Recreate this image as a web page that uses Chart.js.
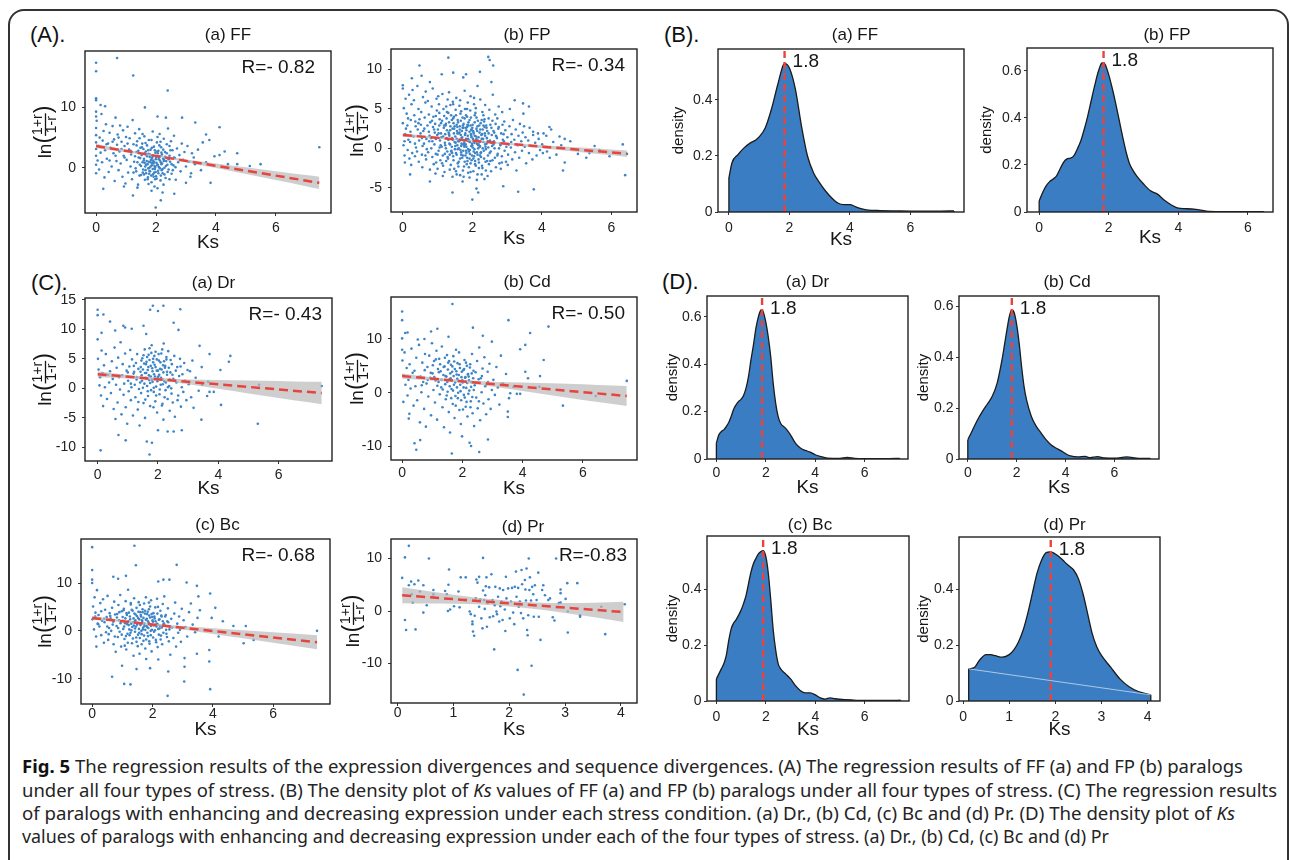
<!DOCTYPE html>
<html>
<head>
<meta charset="utf-8">
<title>Fig. 5</title>
<script src="https://cdn.jsdelivr.net/npm/chart.js@4.4.0/dist/chart.umd.min.js"></script>
<style>
    html, body {
        margin: 0;
        padding: 0;
        width: 1290px;
        height: 860px;
        overflow: hidden;
        background: #fff;
        font-family: "Liberation Sans", Arial, sans-serif;
    }
    #frame {
        position: absolute;
        left: 8px;
        top: 9px;
        width: 1277px;
        height: 900px;
        border: 2px solid #333;
        border-radius: 16px;
    }
    .panel-tag {
        position: absolute;
        font-size: 22px;
        color: #111;
        line-height: 26px;
    }
    .chart-box {
        position: absolute;
    }
    .caption-line {
        position: absolute;
        left: 22px;
        font-family: "Noto Sans", "Open Sans", "Liberation Sans", sans-serif;
        font-size: 18px;
        line-height: 22px;
        color: #242424;
        white-space: nowrap;
        transform-origin: 0 50%;
    }
    .caption-line b {
        color: #111;
    }
</style>
</head>
<body>
<div id="frame"></div>
<div class="panel-tag" style="left:30px; top:22px;">(A).</div>
<div class="panel-tag" style="left:664px; top:22px;">(B).</div>
<div class="panel-tag" style="left:31px; top:270px;">(C).</div>
<div class="panel-tag" style="left:662px; top:269px;">(D).</div>

<div class="caption-line" data-width="1221" style="top:755px;"><b>Fig. 5</b> The regression results of the expression divergences and sequence divergences. (A) The regression results of FF (a) and FP (b) paralogs</div>
<div class="caption-line" data-width="1255" style="top:779px;">under all four types of stress. (B) The density plot of <i>Ks</i> values of FF (a) and FP (b) paralogs under all four types of stress. (C) The regression results</div>
<div class="caption-line" data-width="1213" style="top:802px;">of paralogs with enhancing and decreasing expression under each stress condition. (a) Dr., (b) Cd, (c) Bc and (d) Pr. (D) The density plot of <i>Ks</i></div>
<div class="caption-line" data-width="1087" style="top:825px;">values of paralogs with enhancing and decreasing expression under each of the four types of stress. (a) Dr., (b) Cd, (c) Bc and (d) Pr</div>

<script>
// ---- Tick labels ----
const ksTicks8 = [0, 2, 4, 6];
const ksTicks4 = [0, 1, 2, 3, 4];
const lnTicksFF = [0, 10];
const lnTicksFP = [-5, 0, 5, 10];
const lnTicksDr = [-10, -5, 0, 5, 10, 15];
const lnTicksWide = [-10, 0, 10];
const densTicks3 = [0, 0.2, 0.4];
const densTicks4 = [0, 0.2, 0.4, 0.6];

// ---- Labels ----
const panelTitles = ['(a) FF', '(b) FP', '(a) Dr', '(b) Cd', '(c) Bc', '(d) Pr'];
const rLabels = ['R=- 0.82', 'R=- 0.34', 'R=- 0.43', 'R=- 0.50', 'R=- 0.68', 'R=-0.83'];
const peakKs = [1.84, 1.85, 1.85, 1.8, 1.89, 1.9];
const peakLabel = '1.8';

// ---- (A)/(C) scatter points: [Ks, ln((1+r)/(1-r))] ----
const ffPoints = [
    [0,17.4],[0,16.0],[0.7,18.2],[1.24,15.3],[2.39,12.8],[0,11.5],[0,11.2],[0.15,10.4],[0,9.3],[0,8.5],[0.3,10.2],[1.63,10],[2.05,8.5],[2.33,8.3],[2.87,8.3],[3.31,7.5],[4.12,6.7],[3.67,5.5],[3.78,4.6],[3.56,4.2],[4.12,2.1],[3.95,1.9],[4.29,2.7],[4.71,2.4],[7.45,3.4],[5.13,0.3],[5.49,0.6],[4.71,0.6],[4.4,0.6],[3.82,-2.5],[3.5,-0.4],[3.67,0.9],[3.26,1.7],[3.17,-0.9],[2.22,-4.1],[2.61,-4.3],[2.05,-3.4],[1.85,-3.8],[2.16,-5.4],[1.99,-6.6],[1.23,-4.6],[0.24,-3.5],[0.93,-3.1],[1.38,-3.3],[3.0,-2.5],
    [0,5.4],[0,4.2],[0,2.0],[0,0.5],[0,-0.9],[0,3.1],[0,6.6],[0.02,7.8],[0.05,1.2],[0.08,3.6],[0.1,-0.3],[0.12,5.0],[0.15,2.5],[0.18,8.9],[0.2,0.9],[0.22,4.5],[0.25,6.1],[0.28,-1.6],[0.3,2.9],[0.33,7.2],[0.36,1.5],[0.4,4.0],[0.42,-0.7],[0.45,5.8],[0.48,3.3],
    [0.52,0.2],[0.55,6.9],[0.58,2.4],[0.6,4.7],[0.62,-2.2],[0.65,8.3],[0.68,1.1],[0.7,3.8],[0.72,5.5],[0.75,-0.4],[0.78,2.7],[0.8,7.0],[0.82,0.7],[0.85,4.3],[0.88,-1.5],[0.9,6.2],[0.92,2.0],[0.95,3.6],[0.98,-2.6],[1.0,5.1],
    [1.02,1.3],[1.05,6.8],[1.07,-0.8],[1.1,3.0],[1.12,4.9],[1.15,0.2],[1.17,2.2],[1.2,-1.9],[1.22,7.9],[1.25,3.9],[1.27,1.0],[1.3,5.7],[1.32,-0.1],[1.35,2.6],[1.37,4.4],[1.4,-2.8],[1.42,1.7],[1.44,6.4],[1.46,0.5],[1.48,3.3],
    [1.5,-1.2],[1.52,2.1],[1.54,4.0],[1.55,0.9],[1.57,-0.3],[1.58,3.1],[1.6,1.5],[1.61,5.2],[1.63,-2.0],[1.64,0.2],[1.66,2.7],[1.67,-0.9],[1.69,1.1],[1.7,3.7],[1.72,0.6],[1.73,-1.6],[1.75,2.3],[1.76,4.6],[1.78,0.0],[1.79,1.8],[1.8,-0.6],[1.82,3.0],[1.83,1.3],[1.85,-2.4],[1.86,0.4],[1.88,2.0],[1.89,6.0],[1.9,-1.1],[1.92,1.0],[1.93,3.5],[1.95,0.3],[1.96,-0.2],[1.98,2.5],[1.99,1.4],
    [2.0,-1.4],[2.02,0.8],[2.03,4.2],[2.05,1.9],[2.07,-0.5],[2.08,2.8],[2.1,0.1],[2.12,5.6],[2.13,1.2],[2.15,-2.1],[2.17,3.4],[2.18,0.6],[2.2,2.2],[2.22,-0.9],[2.24,1.5],[2.26,4.8],[2.28,0.0],[2.3,2.6],[2.32,-1.7],[2.34,1.1],[2.36,3.9],[2.38,0.5],[2.4,6.5],[2.42,-0.3],[2.45,2.0],[2.47,1.0],[2.5,4.4],
    [2.52,-1.0],[2.55,2.9],[2.58,0.4],[2.6,5.3],[2.63,1.6],[2.66,-2.0],[2.7,3.2],[2.74,0.9],[2.78,2.1],[2.82,-0.6],[2.86,4.0],[2.9,1.3],[2.95,2.6],[3.0,0.2],[3.05,3.6],[3.1,1.0],[3.15,-1.5],[3.2,2.4],[3.3,0.6],[3.4,3.0],
    [1.62,0.8],[1.74,-0.1],[1.87,1.6],[1.94,-0.8],[2.04,0.4],[2.11,1.7],[2.19,-0.4],[2.27,1.3],[1.68,2.2],[1.81,0.9],[1.97,-1.9],[2.06,2.4],[1.91,0.7],[2.16,0.9],[1.77,-1.0],
    [1.3,1.9],[1.34,-0.6],[1.38,0.9],[1.41,2.8],[1.45,-1.3],[1.47,1.6],[1.5,0.3],[1.53,3.4],[1.56,-0.8],[1.59,1.2],[1.62,2.4],[1.65,-0.4],[1.67,0.5],[1.7,1.9],[1.72,-1.9],[1.74,2.9],[1.76,1.0],[1.78,-0.5],[1.8,2.2],[1.82,0.2],
    [1.84,-1.3],[1.86,3.3],[1.87,0.8],[1.89,-0.2],[1.91,1.9],[1.92,-1.5],[1.94,0.9],[1.96,2.9],[1.97,0.1],[1.99,-0.7],[2.01,1.7],[2.02,-1.8],[2.04,2.7],[2.06,0.5],[2.08,-0.9],[2.09,1.4],[2.11,3.7],[2.13,-0.1],[2.14,1.9],[2.16,-1.3],
    [2.18,2.5],[2.2,0.7],[2.22,-0.2],[2.24,3.0],[2.26,1.1],[2.28,-1.1],[2.3,1.8],[2.33,0.3],[2.36,2.4],[2.39,-0.7],[2.42,1.4],[2.45,-1.9],[2.48,2.9],[2.52,0.6],[2.56,-0.4],[2.6,1.7],[2.65,0.1],[1.15,2.8],[1.05,4.0],[0.95,1.7],
    [0.85,3.1],[0.75,5.0],[0.65,2.0],[0.55,4.3],[0.45,1.2],[0.35,3.9],[1.25,-0.8],[1.45,4.9],[1.65,4.1],[1.85,4.6],[2.05,5.1],[2.25,-2.8],[1.95,-3.1],[1.75,-2.7],[2.45,3.6],[2.15,4.3],[1.55,5.6],[1.35,3.7],[1.6,-1.1],[1.9,1.2]
];

const fpPoints = [
    [1.31,11.5],[2.46,11.6],[2.5,11.2],[2.6,10.5],[0.48,10.5],[0,8.0],[0,7.6],[0.26,8.9],[0.54,9.2],[1.12,9.4],[1.45,9.6],[1.82,9.4],[2.22,9.7],[1.74,9.0],[0.78,8.4],[2.55,8.4],[3.22,6.1],[3.46,5.7],[3.63,5.3],[3.49,2.8],[4.22,2.7],[4.27,2.4],[3.75,2.1],[3.89,1.9],[4.51,1.5],[4.66,1.2],[4.13,1.6],[4.56,0.4],[4.66,-1.8],[4.61,-2.8],[4.03,-0.6],[4.23,-1.2],[5.28,-1.2],[5.37,-0.6],[5.66,-0.2],[5.95,-1.0],[6.33,0.5],[6.4,-3.4],[6.45,-0.7],[3.32,-5.5],[3.77,-5.2],[2.12,-5.1],[2.17,-5.6],[1.43,-5.6],[2.0,-6.5],[0.21,-3.3],[0.78,-4.2],[2.89,-4.8],
    [0.0,3.2],[0.02,0.4],[0.05,-0.9],[0.07,1.8],[0.03,5.1],[0.08,6.3],[0.06,-1.8],[0.09,2.5],
    [0.11,4.4],[0.14,-0.2],[0.16,1.1],[0.13,2.9],[0.18,6.8],[0.19,-1.3],
    [0.21,0.8],[0.23,3.6],[0.25,5.6],[0.27,-0.6],[0.22,2.1],[0.28,7.4],[0.24,-2.1],
    [0.31,1.5],[0.33,4.2],[0.35,-1.0],[0.37,2.8],[0.32,6.1],[0.38,0.1],[0.36,3.4],
    [0.41,-0.4],[0.43,2.4],[0.45,5.0],[0.47,1.0],[0.42,7.9],[0.48,3.7],[0.46,-1.7],
    [0.51,1.9],[0.53,4.6],[0.55,-0.8],[0.57,0.3],[0.52,3.0],[0.58,6.5],[0.56,-2.4],[0.59,2.2],
    [0.61,0.6],[0.63,3.9],[0.65,5.8],[0.67,-1.4],[0.62,2.5],[0.68,1.2],[0.66,7.2],[0.69,-0.1],
    [0.71,2.9],[0.73,-0.5],[0.75,4.3],[0.77,1.6],[0.72,6.0],[0.78,-2.7],[0.76,0.9],[0.79,3.3],
    [0.81,1.3],[0.83,5.3],[0.85,-1.1],[0.87,2.7],[0.82,0.0],[0.88,4.0],[0.86,7.6],[0.89,-2.0],[0.84,3.5],
    [0.91,0.5],[0.93,3.1],[0.95,-0.7],[0.97,6.3],[0.92,2.0],[0.98,4.8],[0.96,-1.8],[0.99,1.7],[0.94,-3.2],
    [1.01,2.4],[1.03,-0.3],[1.05,4.5],[1.07,1.0],[1.02,6.6],[1.08,-1.5],[1.06,3.7],[1.09,0.4],[1.04,5.6],[1.0,-2.6],
    [1.11,1.4],[1.13,3.5],[1.15,-0.9],[1.17,5.0],[1.12,0.2],[1.18,2.6],[1.16,-2.2],[1.19,4.1],[1.14,6.9],[1.1,1.9],
    [1.21,0.7],[1.23,2.9],[1.25,-1.6],[1.27,4.6],[1.22,1.8],[1.28,-0.4],[1.26,3.8],[1.29,6.2],[1.24,0.0],[1.2,-3.0],[1.27,2.3],
    [1.31,1.1],[1.33,3.3],[1.35,-0.8],[1.37,5.5],[1.32,2.0],[1.38,-2.1],[1.36,0.5],[1.39,4.2],[1.34,1.6],[1.3,-1.3],[1.37,2.8],[1.33,7.1],
    [1.41,0.2],[1.43,2.5],[1.45,-1.0],[1.47,4.0],[1.42,1.3],[1.48,-2.6],[1.46,3.2],[1.49,0.8],[1.44,5.9],[1.4,-0.3],[1.47,1.9],[1.43,-3.6],[1.45,3.8],
    [1.51,1.5],[1.53,-0.6],[1.55,3.0],[1.57,0.4],[1.52,4.9],[1.58,-1.9],[1.56,2.2],[1.59,0.9],[1.54,6.4],[1.5,-0.1],[1.57,2.7],[1.53,-2.9],[1.55,1.2],[1.58,3.6],
    [1.61,0.0],[1.63,2.0],[1.65,-1.3],[1.67,3.5],[1.62,1.1],[1.68,-0.5],[1.66,4.4],[1.69,0.6],[1.64,2.8],[1.6,-2.3],[1.67,1.7],[1.63,5.4],[1.65,-3.4],[1.68,0.3],
    [1.71,1.4],[1.73,-0.9],[1.75,2.6],[1.77,0.2],[1.72,3.9],[1.78,-1.7],[1.76,1.0],[1.79,5.0],[1.74,-0.3],[1.7,2.2],[1.77,0.7],[1.73,-2.8],[1.75,3.1],[1.78,7.3],[1.72,-4.2],
    [1.81,0.5],[1.83,2.3],[1.85,-1.2],[1.87,1.6],[1.82,4.2],[1.88,-0.1],[1.86,3.0],[1.89,0.9],[1.84,-2.0],[1.8,1.9],[1.87,5.8],[1.83,-0.6],[1.85,2.7],[1.88,-3.1],[1.82,1.2],
    [1.91,1.0],[1.93,-0.7],[1.95,2.9],[1.97,0.3],[1.92,3.6],[1.98,-1.5],[1.96,1.8],[1.99,0.6],[1.94,4.8],[1.9,-2.4],[1.97,2.4],[1.93,-0.2],[1.95,6.6],[1.98,1.4],[1.92,-3.7],
    [2.01,0.1],[2.03,2.1],[2.05,-1.0],[2.07,3.3],[2.02,1.2],[2.08,-2.0],[2.06,0.7],[2.09,4.5],[2.04,-0.4],[2.0,2.6],[2.07,1.6],[2.03,-2.9],[2.05,5.6],[2.08,-1.6],
    [2.11,1.5],[2.13,-0.5],[2.15,2.8],[2.17,0.4],[2.12,3.9],[2.18,-1.4],[2.16,1.0],[2.19,-2.5],[2.14,2.2],[2.1,5.1],[2.17,0.0],[2.13,-4.0],[2.15,7.9],
    [2.21,0.8],[2.23,2.4],[2.25,-1.1],[2.27,3.6],[2.22,0.2],[2.28,-2.2],[2.26,1.7],[2.29,4.6],[2.24,-0.6],[2.2,2.9],[2.27,-3.3],[2.23,6.2],
    [2.31,1.2],[2.33,-0.3],[2.35,2.7],[2.37,0.5],[2.32,4.2],[2.38,-1.7],[2.36,1.9],[2.39,-2.8],[2.34,3.4],[2.3,0.0],[2.37,5.5],
    [2.41,0.6],[2.43,2.2],[2.45,-0.9],[2.47,3.8],[2.42,1.3],[2.48,-2.0],[2.46,0.1],[2.49,4.9],[2.44,-3.5],[2.4,2.9],
    [2.51,1.0],[2.53,-0.4],[2.55,2.6],[2.57,0.3],[2.52,-1.6],[2.58,3.5],[2.56,1.7],[2.59,6.8],[2.54,-2.9],
    [2.61,0.5],[2.63,2.0],[2.65,-1.2],[2.67,3.1],[2.62,0.9],[2.68,-2.4],[2.66,4.3],[2.69,1.5],
    [2.71,1.3],[2.73,-0.7],[2.75,2.5],[2.77,0.0],[2.72,3.8],[2.78,-1.9],[2.76,5.3],
    [2.81,0.4],[2.83,1.9],[2.85,-1.0],[2.87,3.0],[2.82,-2.6],[2.88,1.1],[2.86,4.6],
    [2.91,0.9],[2.93,-0.3],[2.95,2.3],[2.97,-1.7],[2.92,3.4],[2.98,0.2],
    [3.01,1.4],[3.03,-0.8],[3.05,0.5],[3.07,2.8],[3.02,-2.1],[3.08,5.0],
    [3.11,0.1],[3.13,1.8],[3.15,-1.4],[3.17,3.6],[3.12,0.8],
    [3.21,1.1],[3.23,-0.5],[3.25,2.4],[3.27,-2.8],
    [3.31,0.4],[3.33,1.6],[3.35,-1.2],[3.37,3.1],
    [3.41,0.9],[3.43,-0.3],[3.45,2.0],[3.47,4.4],
    [3.51,0.2],[3.53,1.4],[3.55,-1.9],
    [3.61,1.0],[3.63,-0.6],[3.65,2.6],
    [3.71,0.3],[3.73,-1.4],[3.75,1.7],
    [3.81,0.7],[3.85,-0.9],[3.91,1.2],[3.95,-0.2],[4.01,0.5],[4.05,1.9],
    [4.15,-0.4],[4.33,0.8],[4.42,-0.8],[4.82,0.9],[5.04,-0.7],[5.52,0.3],
    [0.85,0.9],[0.9,2.4],[0.95,4.1],[1.0,-0.8],[1.03,1.9],[1.06,0.1],[1.1,3.2],[1.13,-1.9],[1.16,1.5],[1.19,2.9],
    [1.21,-0.7],[1.24,3.1],[1.26,1.3],[1.29,-1.1],[1.31,4.5],[1.34,0.6],[1.36,2.3],[1.39,-0.4],[1.41,3.6],[1.44,1.1],
    [1.46,-1.5],[1.49,2.8],[1.51,0.3],[1.53,4.2],[1.55,-0.8],[1.57,1.9],[1.59,3.3],[1.61,-1.7],[1.62,0.9],[1.64,2.4],
    [1.66,-0.2],[1.68,4.7],[1.69,1.3],[1.71,-1.2],[1.73,2.9],[1.74,0.5],[1.76,-2.3],[1.78,3.8],[1.79,1.7],[1.8,-0.9],
    [1.82,2.6],[1.83,0.2],[1.85,4.0],[1.86,-1.6],[1.88,1.2],[1.89,3.3],[1.9,-0.4],[1.92,2.1],[1.93,0.8],[1.95,-1.9],
    [1.96,3.9],[1.97,1.6],[1.99,-0.9],[2.0,0.4],[2.01,3.0],[2.03,-1.3],[2.04,1.9],[2.06,-0.1],[2.07,4.2],[2.09,1.0],
    [2.1,-2.2],[2.12,2.5],[2.13,0.6],[2.15,-0.8],[2.16,3.5],[2.18,1.4],[2.19,-1.8],[2.21,2.0],[2.22,0.3],[2.24,3.2],
    [2.25,-0.5],[2.27,1.2],[2.29,-2.5],[2.3,2.4],[2.32,0.8],[2.34,-1.3],[2.35,3.7],[2.37,1.6],[2.39,-0.1],[2.41,2.6],
    [2.43,-1.6],[2.45,0.9],[2.47,1.9],[2.5,-0.6],[2.52,3.0],[2.55,0.7],[2.58,-1.5],[2.61,2.2],[2.64,0.0],[2.68,1.6],
    [2.72,-0.9],[2.76,2.7],[2.8,0.6],[2.85,-1.8],[2.9,1.8],[1.25,5.3],[1.45,5.6],[1.65,6.1],[1.85,5.0],[2.05,6.4],
    [1.35,-2.7],[1.55,-3.3],[1.75,-3.6],[1.95,-3.0],[2.15,-3.3],[2.35,-3.9],[1.15,-3.5],[0.95,1.2],[0.75,2.1],[0.65,-0.9],
    [0.55,1.3],[0.45,3.2],[0.35,0.6],[0.25,1.6],[0.15,3.8],[0.05,0.9],[1.05,2.9],[1.22,0.4],[1.42,-0.6],[1.62,1.9],
    [1.82,-0.3],[2.02,2.2],[2.22,-0.9],[2.42,1.3],[1.52,0.7],[1.72,2.6],[1.92,-1.3],[2.12,1.2],[2.32,2.9],[1.33,1.8],
    [1.58,-0.1],[1.78,0.4],[1.98,2.3],[2.18,0.5],[2.38,0.2],[1.48,2.5],[1.68,-0.8],[1.88,2.9],[2.08,-0.6],[2.28,1.8]
];

const drPoints = [
    [0,13.3],[0,12.4],[0.19,12.5],[0.41,11.3],[0,8.3],[1.83,14.0],[2.18,14.0],[1.74,13.3],[2.0,13.1],[2.74,13.4],[2.52,11.1],[2.68,9.9],[0.13,9.4],[0.58,9.8],[0.85,10.6],[0.91,10.3],[1.13,10.1],[1.52,10.6],[1.61,9.2],[3.38,7.2],[3.71,5.8],[4.4,5.5],[4.35,4.5],[4.07,3.1],[3.66,1.1],[3.46,0.6],[3.71,-0.6],[3.85,-0.6],[3.63,-1.3],[4.09,-2.8],[3.44,-5.3],[5.31,-6.0],[5.35,0.6],[7.43,0.4],[0.1,-10.5],[0.69,-7.9],[0.93,-8.8],[1.63,-9.0],[1.8,-9.2],[1.72,-11.2],[2.32,-7.3],[2.52,-7.3],[2.79,-7.1],[2.0,-7.1],
    [0.01,5.0],[0.03,3.2],[0.06,0.5],[0.08,1.9],[0.11,-1.2],[0.13,6.4],[0.16,2.6],[0.18,-3.0],
    [0.21,3.9],[0.24,0.2],[0.27,5.8],[0.31,-1.8],[0.34,2.3],[0.38,1.0],
    [0.41,2.9],[0.44,-0.8],[0.47,4.6],[0.5,1.6],[0.53,-3.5],[0.56,6.9],[0.59,-5.2],
    [0.61,0.6],[0.63,3.5],[0.66,-2.4],[0.68,5.2],[0.71,1.9],[0.74,-0.2],[0.76,7.8],[0.79,-4.4],
    [0.81,2.2],[0.83,4.1],[0.86,-1.1],[0.88,0.8],[0.91,5.9],[0.93,-3.2],[0.96,3.0],[0.98,-6.0],
    [1.01,1.3],[1.03,-0.5],[1.05,3.7],[1.08,6.5],[1.1,-2.0],[1.12,0.2],[1.14,4.9],[1.17,-4.6],[1.19,2.5],
    [1.21,2.8],[1.23,0.6],[1.25,-1.5],[1.27,4.3],[1.29,1.5],[1.31,5.8],[1.33,-3.6],[1.35,3.3],[1.37,-0.1],[1.39,-6.3],
    [1.41,1.0],[1.43,3.6],[1.44,-0.8],[1.46,2.2],[1.48,5.1],[1.5,0.1],[1.52,-2.5],[1.54,4.2],[1.56,6.6],[1.57,-5.0],[1.59,1.8],
    [1.61,2.6],[1.62,4.5],[1.64,0.4],[1.66,3.1],[1.67,-1.3],[1.69,5.7],[1.71,1.4],[1.72,6.8],[1.74,-3.0],[1.76,2.0],[1.77,-0.3],[1.79,7.3],
    [1.81,3.4],[1.82,1.1],[1.84,5.0],[1.86,-0.6],[1.87,2.4],[1.89,4.0],[1.91,-2.2],[1.92,6.2],[1.94,0.3],[1.96,3.0],[1.97,-4.1],[1.99,1.8],
    [2.01,2.0],[2.03,4.7],[2.05,-1.0],[2.07,3.3],[2.09,0.6],[2.11,5.9],[2.13,-2.9],[2.15,1.5],[2.17,3.9],[2.18,-5.3],[2.19,7.6],
    [2.21,1.2],[2.23,3.5],[2.25,-0.3],[2.28,4.9],[2.3,2.3],[2.32,-1.8],[2.34,6.3],[2.37,0.4],[2.39,-3.8],
    [2.41,2.7],[2.44,0.0],[2.46,4.1],[2.49,-2.4],[2.51,1.6],[2.54,5.5],[2.56,-4.8],[2.59,3.0],
    [2.61,1.0],[2.64,3.6],[2.67,-1.2],[2.7,2.1],[2.73,5.0],[2.76,-3.1],[2.79,0.2],
    [2.81,2.4],[2.84,-0.6],[2.87,4.3],[2.9,1.3],[2.94,-2.0],[2.98,3.1],
    [3.02,0.7],[3.06,2.9],[3.1,-1.5],[3.14,4.7],[3.18,-3.3],
    [3.25,1.8],[3.35,-0.4],[3.45,3.6],
    [1.42,2.8],[1.45,4.7],[1.47,1.3],[1.5,3.2],[1.52,5.6],[1.55,0.8],[1.57,2.6],[1.6,4.1],[1.62,1.6],[1.64,5.3],
    [1.66,-0.5],[1.68,3.6],[1.7,2.2],[1.72,4.8],[1.74,0.9],[1.76,3.8],[1.78,6.0],[1.8,1.5],[1.82,2.9],[1.84,4.4],
    [1.86,0.1],[1.88,5.5],[1.9,2.0],[1.92,3.6],[1.94,-1.2],[1.96,4.9],[1.98,1.2],[2.0,3.0],[2.02,5.8],[2.04,2.3],
    [2.06,-0.2],[2.08,4.4],[2.1,1.8],[2.12,3.2],[2.14,6.6],[2.16,0.7],[2.18,2.7],[2.2,4.6],[2.22,-1.5],[2.24,3.8],
    [2.26,1.0],[2.28,5.3],[2.3,2.8],[2.33,0.2],[2.36,3.5],[2.39,1.5],[2.42,4.8],[2.45,-0.9],[2.48,2.3],[1.3,1.9],
    [1.2,3.8],[1.1,0.8],[1.0,2.7],[2.55,1.3],[2.65,-2.0],[2.75,3.7],[1.35,-2.3],[1.58,-1.9],[1.85,-3.2],[2.15,-2.6]
];

const cdPoints = [
    [0,15.1],[0,13.5],[1.67,16.5],[3.53,13.5],[4.86,12.3],[4.25,11.1],[4.09,8.9],[3.92,8.1],[4.7,6.1],[4.58,3.1],[4.09,3.9],[4.18,2.7],[3.7,1.1],[3.59,-0.1],[3.81,-0.2],[3.92,-0.2],[4.56,1.1],[7.46,2.2],[6.43,-0.6],[5.34,-2.4],[3.51,-3.5],[3.51,-4.5],[2.85,-8.7],[2.56,-11.0],[2.24,-9.3],[2.29,-9.9],[1.65,-11.3],[0.47,-10.6],[0.41,-9.4],[0.6,-8.8],[0.24,-3.9],[0.22,-4.8],[0.04,-1.7],[0.1,11.1],[0.18,11.2],[0.74,10.0],[0.52,9.9],[0.96,11.4],[1.17,11.9],[1.54,10.4],[2.35,12.1],[2.68,10.6],[2.98,9.5],[0,10.1],[0,8.0],
    [0.01,6.0],[0.04,3.2],[0.08,7.5],[0.11,1.5],[0.15,4.6],[0.18,-0.5],
    [0.21,2.4],[0.25,5.3],[0.28,0.8],[0.31,8.2],[0.35,3.7],[0.38,-2.4],
    [0.41,4.1],[0.44,1.2],[0.47,6.5],[0.5,-1.4],[0.53,2.9],[0.56,8.9],[0.59,-5.5],
    [0.61,3.0],[0.64,0.1],[0.67,5.6],[0.7,2.0],[0.73,-3.0],[0.76,7.2],[0.79,-6.3],
    [0.81,1.7],[0.84,4.8],[0.87,-0.7],[0.9,6.9],[0.93,2.8],[0.96,-4.2],[0.99,9.2],
    [1.01,3.6],[1.04,0.5],[1.06,5.9],[1.09,-1.8],[1.11,2.3],[1.14,7.8],[1.16,-5.0],[1.19,4.4],
    [1.21,2.0],[1.23,6.3],[1.25,-0.3],[1.28,4.0],[1.3,1.0],[1.32,8.6],[1.34,-2.7],[1.37,3.3],[1.39,-6.4],
    [1.41,4.9],[1.43,1.6],[1.45,-1.2],[1.47,3.0],[1.49,7.0],[1.51,0.2],[1.53,5.6],[1.55,-3.6],[1.57,2.5],[1.59,-7.4],
    [1.61,2.7],[1.62,5.2],[1.64,0.7],[1.66,3.9],[1.68,-2.1],[1.7,6.8],[1.72,1.5],[1.74,-4.7],[1.75,4.4],[1.77,-0.6],[1.79,8.0],
    [1.81,3.4],[1.82,1.0],[1.84,5.5],[1.85,-1.0],[1.87,2.2],[1.89,7.5],[1.9,-3.2],[1.92,4.6],[1.94,0.3],[1.95,-5.8],[1.97,2.9],[1.99,-8.1],
    [2.01,1.9],[2.03,4.2],[2.05,-0.4],[2.07,6.1],[2.09,2.8],[2.11,-2.6],[2.13,0.9],[2.15,5.0],[2.17,-4.4],[2.19,3.5],
    [2.21,3.0],[2.23,0.4],[2.26,5.3],[2.28,-1.6],[2.3,2.0],[2.32,7.2],[2.34,-3.8],[2.37,4.1],[2.39,-6.2],
    [2.41,1.4],[2.44,3.8],[2.46,-0.9],[2.49,5.9],[2.51,-2.9],[2.54,2.5],[2.56,8.4],[2.59,-5.1],
    [2.61,2.7],[2.64,0.1],[2.67,4.5],[2.7,-2.0],[2.73,6.6],[2.76,1.2],[2.79,-4.0],
    [2.81,1.6],[2.84,3.9],[2.87,-1.2],[2.9,5.4],[2.94,-3.0],[2.98,0.5],
    [3.03,2.4],[3.08,-0.4],[3.13,4.8],[3.18,1.0],[3.23,-2.2],[3.28,6.9],
    [3.35,1.7],[3.45,3.5],[3.55,-1.0],
    [1.02,5.1],[1.07,2.9],[1.12,6.2],[1.17,1.3],[1.22,3.8],[1.26,5.3],[1.31,2.4],[1.35,0.6],[1.38,4.8],[1.42,6.5],
    [1.44,3.1],[1.48,-0.5],[1.5,2.0],[1.52,4.3],[1.56,5.9],[1.58,1.2],[1.6,3.6],[1.63,-1.0],[1.65,2.3],[1.67,4.9],
    [1.69,0.4],[1.71,3.1],[1.73,5.8],[1.76,1.9],[1.78,-2.4],[1.8,4.0],[1.83,2.6],[1.86,0.0],[1.88,3.3],[1.91,5.3],
    [1.93,1.5],[1.96,-1.4],[1.98,3.9],[2.0,2.3],[2.02,-3.1],[2.04,1.0],[2.06,4.4],[2.08,-0.9],[2.1,2.9],[2.12,5.6],
    [2.14,-1.7],[2.16,1.8],[2.18,3.4],[2.2,-0.2],[2.22,2.3],[2.25,4.7],[2.27,-2.7],[2.29,1.1],[2.31,3.6],[2.33,-0.8],
    [2.36,2.7],[2.38,0.5],[0.95,3.7],[0.85,2.4],[0.75,4.2],[0.65,1.4],[2.45,1.9],[2.55,-1.6],[2.65,3.1],[2.85,2.0]
];

const bcPoints = [
    [0,17.5],[1.4,17.8],[0,12.7],[1.45,13.7],[2.8,13.8],[0,10.7],[0,10.0],[0.7,11.3],[1.12,11.5],[0.86,10.9],[2.36,10.7],[2.56,10.7],[2.19,10.3],[3.13,10.1],[3.47,9.4],[3.91,7.8],[4.08,4.8],[3.52,7.2],[3.96,2.7],[4.33,2.0],[4.68,1.0],[5.09,1.0],[7.45,0],[5.35,-1.9],[5.02,-2.6],[4.19,-1.2],[3.88,-4.0],[3.88,-6.4],[3.47,-4.8],[3.06,-5.7],[3.06,-7.5],[3.05,-10.6],[3.91,-12.2],[2.5,-13.6],[2.52,-8.5],[1.92,-7.8],[1.47,-8.0],[1.06,-11.1],[1.27,-11.2],[0.66,-9.6],[0.99,-7.3],[0.14,-3.3],
    [0.01,2.4],[0.03,5.1],[0.06,0.3],[0.08,7.0],[0.11,3.8],[0.13,-1.2],[0.16,8.5],[0.18,1.5],
    [0.21,3.3],[0.24,0.9],[0.27,5.8],[0.3,-0.9],[0.33,2.1],[0.36,6.6],[0.39,-2.5],
    [0.41,1.8],[0.43,4.4],[0.46,-0.3],[0.48,2.9],[0.51,7.3],[0.53,-1.9],[0.56,0.6],[0.58,3.7],
    [0.61,2.6],[0.63,0.0],[0.66,4.8],[0.68,1.3],[0.71,-2.8],[0.73,6.1],[0.76,3.4],[0.78,-4.4],
    [0.81,1.0],[0.83,3.5],[0.85,-1.3],[0.87,5.4],[0.89,2.2],[0.91,-0.2],[0.93,7.5],[0.96,-3.3],[0.98,4.1],
    [1.01,2.9],[1.03,0.4],[1.05,4.6],[1.07,-1.7],[1.09,1.6],[1.11,6.2],[1.13,-3.9],[1.15,3.3],[1.17,-0.6],[1.19,8.6],
    [1.21,1.2],[1.22,3.8],[1.24,-0.9],[1.26,2.4],[1.28,5.5],[1.3,0.1],[1.32,-2.6],[1.34,4.2],[1.36,1.8],[1.37,-5.2],[1.39,6.8],
    [1.41,2.0],[1.42,0.5],[1.44,3.4],[1.46,-1.4],[1.47,4.8],[1.49,1.3],[1.51,-3.2],[1.52,2.7],[1.54,6.0],[1.56,-0.4],[1.57,-4.8],[1.59,3.9],
    [1.61,1.5],[1.62,3.0],[1.64,-0.7],[1.65,2.2],[1.67,4.5],[1.68,0.3],[1.7,-2.1],[1.72,5.7],[1.73,1.0],[1.75,3.6],[1.76,-3.7],[1.78,7.0],[1.79,-5.9],
    [1.81,2.5],[1.82,0.8],[1.84,4.0],[1.85,-1.1],[1.87,1.7],[1.89,3.2],[1.9,-2.7],[1.92,5.1],[1.94,0.0],[1.95,6.4],[1.97,-4.3],[1.99,2.9],
    [2.01,1.9],[2.03,3.7],[2.05,-0.2],[2.07,2.6],[2.09,4.9],[2.11,-1.9],[2.13,0.9],[2.15,6.7],[2.17,-3.4],[2.18,1.3],[2.19,-6.0],
    [2.21,2.3],[2.23,0.5],[2.26,4.2],[2.28,-1.0],[2.3,3.0],[2.32,-2.8],[2.34,5.6],[2.37,1.4],[2.39,7.2],
    [2.41,1.1],[2.44,3.3],[2.46,-0.6],[2.49,2.0],[2.51,4.7],[2.54,-2.2],[2.56,0.3],[2.59,-5.0],
    [2.62,2.5],[2.65,0.7],[2.69,-1.5],[2.72,3.6],[2.75,5.9],[2.78,-3.3],
    [2.82,1.5],[2.85,-0.4],[2.88,3.0],[2.91,0.2],[2.94,-2.3],[2.97,4.6],
    [3.03,2.2],[3.09,0.8],[3.15,-1.2],[3.21,3.9],[3.27,5.7],
    [3.33,1.3],[3.41,-0.3],[3.49,2.7],[3.57,4.3],
    [0.82,2.8],[0.86,0.6],[0.9,3.9],[0.94,1.6],[0.98,-0.8],[1.02,2.1],[1.04,4.3],[1.06,0.9],[1.1,2.6],[1.12,-1.1],
    [1.14,3.7],[1.16,1.4],[1.18,-2.5],[1.2,2.0],[1.23,0.3],[1.25,3.0],[1.27,-0.4],[1.29,1.5],[1.31,4.4],[1.33,0.8],
    [1.35,-1.6],[1.37,2.6],[1.38,1.1],[1.4,3.6],[1.42,-0.2],[1.43,2.2],[1.45,0.9],[1.47,-2.3],[1.48,3.1],[1.5,1.7],
    [1.52,-0.8],[1.53,4.0],[1.55,0.4],[1.56,2.4],[1.58,-1.5],[1.6,1.2],[1.61,3.3],[1.63,0.0],[1.64,-2.8],[1.66,1.9],
    [1.67,3.9],[1.69,0.7],[1.7,2.7],[1.72,-1.0],[1.73,1.5],[1.75,4.2],[1.76,0.2],[1.78,2.3],[1.79,-1.8],[1.8,1.0],
    [1.82,3.5],[1.83,-0.4],[1.85,2.0],[1.86,0.6],[1.88,4.5],[1.89,-2.2],[1.91,1.4],[1.92,2.8],[1.94,-0.9],[1.95,1.0],
    [1.97,3.5],[1.98,0.2],[2.0,2.2],[2.02,-1.4],[2.04,1.1],[2.06,3.0],[2.08,0.1],[2.1,2.0],[2.12,-2.4],[2.14,1.5],
    [2.16,3.6],[2.19,0.4],[2.21,-0.8],[2.23,2.4],[2.25,1.0],[2.27,-1.8],[2.29,3.2],[2.31,0.7],[2.34,2.0],[2.36,-0.4],
    [2.38,1.5],[2.42,3.0],[2.45,0.2],[2.48,-1.3],[2.52,1.8],[2.58,0.8],[0.7,1.9],[0.6,3.1],[0.5,0.9],[0.4,2.5],
    [0.3,4.1],[0.2,1.4],[0.1,3.0],[0.75,-1.2],[0.55,-0.7],[1.28,5.8],[1.58,5.4],[1.88,5.9],[2.18,5.0],[1.08,-3.1]
];

const prPoints = [
    [0.08,6.3],[0.2,12.4],[0.13,10.2],[0.24,5.6],[0.2,4.9],[0.3,5.1],[0.25,3.2],[0.27,1.6],[0.13,-1.7],[0.15,-3.6],[0.32,-3.5],[0.37,5.8],[0.46,4.9],[0.4,3.7],[0.46,-0.3],[0.52,1.1],[0.56,10.0],[0.64,4.0],[0.64,3.2],[0.64,2.7],[0.85,3.8],[0.88,3.2],[0.92,7.9],[0.9,0],[0.94,0.3],[0.91,5.0],[1.01,0.9],[1.09,3.7],[1.11,0.7],[1.13,6.4],
    [1.22,6.4],[1.22,2.2],[1.29,-0.1],[1.31,-0.6],[1.34,-2.0],[1.34,-2.5],[1.35,-3.9],[1.37,-4.7],[1.38,-0.9],[1.4,2.4],[1.41,6.0],[1.43,5.4],[1.46,6.5],[1.46,0.8],[1.48,2.2],[1.5,-1.4],[1.52,-3.3],[1.53,3.9],[1.55,2.1],[1.53,10.1],
    [1.56,0.4],[1.57,3.0],[1.58,4.7],[1.59,6.4],[1.6,-3.0],[1.61,1.5],[1.64,4.5],[1.65,-1.2],[1.68,7.0],[1.7,2.1],[1.71,-1.0],[1.73,-7.3],[1.74,1.1],[1.75,4.6],[1.77,-0.1],[1.78,-0.6],[1.8,2.7],[1.82,-2.0],[1.83,4.3],[1.84,0.9],
    [1.86,1.8],[1.88,-1.7],[1.89,4.0],[1.92,0.3],[1.93,-3.8],[1.94,6.5],[1.95,2.4],[1.98,4.3],[2.01,-1.4],[2.03,1.8],[2.05,4.4],[2.07,-0.3],[2.09,-2.5],[2.1,4.6],[2.12,7.5],[2.13,2.7],[2.15,-11.2],[2.16,4.4],[2.17,0.8],[2.19,1.8],
    [2.21,-0.4],[2.22,7.8],[2.23,5.1],[2.25,-1.4],[2.26,-15.9],[2.28,5.9],[2.29,4.1],[2.3,2.0],[2.31,8.1],[2.32,-3.6],[2.33,-4.6],[2.34,-0.8],[2.35,10.0],[2.36,4.0],[2.37,6.4],[2.39,2.0],[2.4,-10.4],[2.41,4.6],[2.43,3.2],[2.44,-1.1],
    [2.46,4.9],[2.49,2.1],[2.52,7.3],[2.53,-1.1],[2.56,-5.5],[2.59,4.0],[2.61,4.9],[2.64,3.0],[2.7,2.1],[2.73,2.4],[2.78,-1.2],[2.81,-1.8],[2.84,10.0],[2.89,1.5],[2.92,1.6],[2.92,3.4],[2.92,4.1],[3.01,2.3],[3.04,5.3],[3.05,-0.1],
    [3.05,-4.1],[3.22,5.3],[3.27,-0.8],[3.27,-1.1],[3.65,0.8],[3.72,-4.4],[4.07,1.3]
];

// ---- Regression fits [Ks, value] and confidence band ----
const ffFit = [[0, 3.6], [7.45, -2.5]];
const fpFit = [[0, 1.7], [6.45, -0.68]];
const drFit = [[0, 2.4], [7.43, -0.8]];
const cdFit = [[0, 3.1], [7.46, -0.6]];
const bcFit = [[0, 2.7], [7.45, -2.4]];
const prFit = [[0.08, 3.0], [4.05, -0.2]];

const ffBandX = [0, 1, 2, 3, 4, 5, 6, 7, 7.45];
const ffBandUpper = [3.95, 3.0, 2.12, 1.37, 0.71, 0.07, -0.56, -1.19, -1.48];
const ffBandLower = [3.25, 2.56, 1.82, 0.93, -0.05, -1.05, -2.04, -3.05, -3.52];
const fpBandX = [0, 1, 2, 3, 4, 5, 6, 6.45];
const fpBandUpper = [1.92, 1.45, 1.04, 0.71, 0.42, 0.13, -0.14, -0.27];
const fpBandLower = [1.48, 1.21, 0.88, 0.47, 0.02, -0.43, -0.88, -1.09];
const drBandX = [0, 1, 2, 3, 4, 5, 6, 7, 7.43];
const drBandUpper = [2.9, 2.27, 1.79, 1.51, 1.43, 1.35, 1.26, 1.13, 1.1];
const drBandLower = [1.9, 1.67, 1.29, 0.71, -0.07, -0.85, -1.64, -2.37, -2.7];
const cdBandX = [0, 1, 2, 3, 4, 5, 6, 7, 7.46];
const cdBandUpper = [3.6, 2.9, 2.36, 2.06, 1.92, 1.77, 1.57, 1.33, 1.25];
const cdBandLower = [2.6, 2.3, 1.86, 1.16, 0.32, -0.53, -1.33, -2.07, -2.45];
const bcBandX = [0, 1, 2, 3, 4, 5, 6, 7, 7.45];
const bcBandUpper = [3.1, 2.27, 1.53, 1.0, 0.56, 0.13, -0.31, -0.74, -0.93];
const bcBandLower = [2.3, 1.77, 1.13, 0.3, -0.64, -1.57, -2.51, -3.44, -3.87];
const prBandX = [0.08, 0.5, 1.0, 1.5, 2.0, 2.5, 3.0, 3.5, 4.05];
const prBandUpper = [4.5, 3.85, 3.09, 2.42, 1.95, 1.64, 1.52, 1.55, 1.75];
const prBandLower = [1.5, 1.45, 1.39, 1.22, 0.85, 0.34, -0.38, -1.14, -2.1];

// ---- (B)/(D) density curves [Ks, density] ----
const densityFF = [[0,0.121],[0.1,0.175],[0.3,0.205],[0.5,0.229],[0.7,0.246],[0.9,0.258],[1.0,0.268],[1.2,0.3],[1.4,0.365],[1.6,0.449],[1.8,0.526],[1.85,0.53],[2.0,0.514],[2.2,0.437],[2.4,0.306],[2.6,0.199],[2.8,0.139],[3.0,0.104],[3.2,0.074],[3.4,0.05],[3.6,0.032],[3.8,0.026],[4.0,0.026],[4.2,0.018],[4.4,0.011],[4.6,0.007],[5.0,0.005],[5.5,0.004],[6.0,0.003],[6.5,0.003],[7.0,0.003],[7.44,0.004]];
const densityFP = [[0,0.047],[0.1,0.083],[0.2,0.111],[0.3,0.129],[0.4,0.14],[0.5,0.154],[0.6,0.183],[0.7,0.211],[0.8,0.226],[0.9,0.229],[1.0,0.24],[1.1,0.269],[1.2,0.304],[1.3,0.354],[1.4,0.411],[1.5,0.476],[1.6,0.54],[1.7,0.597],[1.8,0.633],[1.85,0.635],[1.9,0.626],[2.0,0.583],[2.1,0.526],[2.2,0.461],[2.3,0.39],[2.4,0.319],[2.5,0.254],[2.6,0.204],[2.7,0.176],[2.8,0.154],[3.0,0.119],[3.2,0.09],[3.4,0.076],[3.6,0.05],[3.8,0.03],[4.0,0.016],[4.2,0.014],[4.5,0.011],[4.8,0.004],[5.2,0.002],[6.0,0.002],[6.45,0.002]];
const densityDr = [[0,0.067],[0.1,0.102],[0.2,0.116],[0.3,0.123],[0.4,0.137],[0.5,0.154],[0.6,0.18],[0.7,0.21],[0.8,0.229],[0.9,0.243],[1.0,0.252],[1.1,0.268],[1.2,0.299],[1.3,0.348],[1.4,0.418],[1.5,0.481],[1.6,0.551],[1.7,0.6],[1.8,0.628],[1.85,0.63],[1.9,0.621],[2.0,0.579],[2.1,0.516],[2.2,0.432],[2.3,0.32],[2.4,0.236],[2.5,0.18],[2.6,0.151],[2.8,0.13],[3.0,0.102],[3.2,0.067],[3.4,0.046],[3.6,0.036],[3.8,0.029],[4.0,0.018],[4.2,0.011],[4.5,0.004],[5.0,0.003],[5.3,0.007],[5.6,0.003],[6.0,0.002],[7.0,0.002],[7.42,0.003]];
const densityCd = [[0,0.076],[0.1,0.095],[0.2,0.115],[0.4,0.154],[0.6,0.187],[0.8,0.216],[1.0,0.246],[1.2,0.298],[1.4,0.39],[1.5,0.448],[1.6,0.507],[1.7,0.56],[1.8,0.586],[1.9,0.573],[2.0,0.527],[2.1,0.455],[2.2,0.363],[2.3,0.285],[2.4,0.233],[2.6,0.167],[2.8,0.128],[3.0,0.102],[3.2,0.076],[3.4,0.056],[3.6,0.043],[3.8,0.033],[4.0,0.021],[4.2,0.012],[4.5,0.008],[4.8,0.01],[5.0,0.005],[5.3,0.009],[5.6,0.004],[6.0,0.003],[6.5,0.008],[7.0,0.002],[7.46,0.002]];
const densityBc = [[0,0.079],[0.1,0.097],[0.2,0.115],[0.3,0.133],[0.4,0.163],[0.5,0.217],[0.6,0.259],[0.7,0.279],[0.8,0.291],[0.9,0.307],[1.0,0.325],[1.1,0.349],[1.2,0.378],[1.3,0.42],[1.4,0.462],[1.5,0.492],[1.6,0.51],[1.7,0.526],[1.8,0.534],[1.9,0.538],[2.0,0.516],[2.1,0.456],[2.2,0.36],[2.3,0.253],[2.4,0.181],[2.5,0.133],[2.6,0.115],[2.8,0.097],[3.0,0.079],[3.2,0.055],[3.4,0.037],[3.6,0.029],[3.8,0.029],[4.0,0.022],[4.2,0.011],[4.4,0.007],[4.6,0.011],[4.8,0.008],[5.2,0.005],[6.0,0.002],[7.0,0.002],[7.45,0.003]];
const densityPr = [[0.12,0.115],[0.25,0.121],[0.35,0.145],[0.5,0.166],[0.6,0.166],[0.7,0.162],[0.85,0.157],[1.0,0.166],[1.1,0.183],[1.2,0.211],[1.3,0.253],[1.4,0.313],[1.5,0.384],[1.6,0.456],[1.7,0.504],[1.8,0.531],[1.9,0.534],[2.0,0.526],[2.1,0.514],[2.2,0.498],[2.3,0.483],[2.4,0.468],[2.5,0.438],[2.6,0.384],[2.7,0.313],[2.8,0.241],[2.9,0.193],[3.0,0.163],[3.2,0.121],[3.4,0.079],[3.6,0.051],[3.8,0.034],[4.0,0.025],[4.07,0.022]];

// ---- Styles ----
const FONT = '"Liberation Sans", Arial, Helvetica, sans-serif';
const INK = '#161616';
const DOT_BLUE = '#3d85c6';
const AREA_BLUE = '#3a7dc2';
const FIT_RED = '#e8443f';
const BAND_GREY = 'rgba(185,185,185,0.7)';
const TICK_LEN = 3;

const toXY = (pairs) => pairs.map(([x, y]) => ({x, y}));
const zipXY = (xs, ys) => xs.map((x, i) => ({x, y: ys[i]}));

// Рамка, заголовок и подписи панели
const panelDecor = {
    id: 'panelDecor',
    afterDraw(chart, args, opts) {
        const {ctx, chartArea: a} = chart;
        ctx.save();
        ctx.strokeStyle = '#222';
        ctx.lineWidth = 1.4;
        ctx.strokeRect(a.left, a.top, a.right - a.left, a.bottom - a.top);

        ctx.fillStyle = INK;
        ctx.textBaseline = 'middle';
        ctx.textAlign = 'center';
        ctx.font = `17px ${FONT}`;
        ctx.fillText(opts.title, (a.left + a.right) / 2 + opts.titleShift, a.top - opts.titleGap);

        if (opts.rLabel) {
            ctx.textAlign = 'right';
            ctx.font = `19px ${FONT}`;
            ctx.fillText(opts.rLabel, a.right - opts.rGap, a.top + 17);
        }
        if (opts.peak !== undefined) {
            ctx.textAlign = 'left';
            ctx.font = `19px ${FONT}`;
            ctx.fillText(peakLabel, chart.scales.x.getPixelForValue(opts.peak) + 8, a.top + 13);
        }
        if (opts.lnGap) {
            drawLnTitle(ctx, a.left - opts.lnGap, (a.top + a.bottom) / 2);
        }
        ctx.restore();
    },
};

// ln((1+r)/(1-r)) повернутый подписью оси
function drawLnTitle(ctx, cx, cy) {
    ctx.save();
    ctx.translate(cx, cy);
    ctx.rotate(-Math.PI / 2);
    ctx.fillStyle = INK;
    ctx.strokeStyle = INK;
    ctx.textBaseline = 'middle';
    ctx.textAlign = 'left';

    const bigFont = `19px ${FONT}`;
    const parenFont = `23px ${FONT}`;
    const smallFont = `14px ${FONT}`;
    ctx.font = bigFont;
    const lnW = ctx.measureText('ln').width;
    ctx.font = parenFont;
    const parW = ctx.measureText('(').width;
    ctx.font = smallFont;
    const fracW = Math.max(ctx.measureText('1+r').width, ctx.measureText('1-r').width) + 2;
    let u = -(lnW + parW * 2 + fracW) / 2;

    ctx.font = bigFont;
    ctx.fillText('ln', u, 1);
    u += lnW;
    ctx.font = parenFont;
    ctx.fillText('(', u, 0);
    u += parW;
    ctx.font = smallFont;
    ctx.textAlign = 'center';
    ctx.fillText('1+r', u + fracW / 2, -6.5);
    ctx.fillText('1-r', u + fracW / 2, 7.5);
    ctx.lineWidth = 1.3;
    ctx.beginPath();
    ctx.moveTo(u, 0.5);
    ctx.lineTo(u + fracW, 0.5);
    ctx.stroke();
    u += fracW;
    ctx.textAlign = 'left';
    ctx.font = parenFont;
    ctx.fillText(')', u, 0);
    ctx.restore();
}

function mountCanvas(frame, pad) {
    const [l, t, r, b] = frame;
    const w = Math.round(r - l + pad.left + pad.right);
    const h = Math.round(b - t + pad.top + pad.bottom);
    const holder = document.createElement('div');
    holder.className = 'chart-box';
    holder.style.left = (l - pad.left) + 'px';
    holder.style.top = (t - pad.top) + 'px';
    holder.style.width = w + 'px';
    holder.style.height = h + 'px';
    const canvas = document.createElement('canvas');
    canvas.width = w;
    canvas.height = h;
    canvas.style.width = w + 'px';
    canvas.style.height = h + 'px';
    holder.appendChild(canvas);
    document.body.appendChild(holder);
    return canvas;
}

function axisScales(p, pad, yTitle, yPad) {
    const tickFont = {family: FONT, size: 14};
    return {
        x: {
            type: 'linear',
            min: p.x[0],
            max: p.x[1],
            afterBuildTicks: (s) => { s.ticks = p.xTicks.map((v) => ({value: v})); },
            afterFit: (s) => { s.height = pad.bottom; },
            grid: {drawOnChartArea: false, drawTicks: true, tickLength: TICK_LEN, color: '#333'},
            border: {display: false},
            ticks: {font: tickFont, color: '#222', padding: p.tickGap - 11, autoSkip: false, maxRotation: 0, callback: (v) => String(v)},
            title: {display: true, text: 'Ks', font: {family: FONT, size: 19, lineHeight: 1.2}, color: INK, padding: 0},
        },
        y: {
            type: 'linear',
            min: p.y[0],
            max: p.y[1],
            afterBuildTicks: (s) => { s.ticks = p.yTicks.map((v) => ({value: v})); },
            afterFit: (s) => { s.width = pad.left; },
            grid: {drawOnChartArea: false, drawTicks: true, tickLength: TICK_LEN, color: '#333'},
            border: {display: false},
            ticks: {font: tickFont, color: '#222', padding: yPad, autoSkip: false, callback: (v) => String(v)},
            title: yTitle
                ? {display: true, text: yTitle, font: {family: FONT, size: 15, lineHeight: 1.2}, color: INK, padding: 0}
                : {display: false},
        },
    };
}

function baseOptions(pad, scales, decor) {
    return {
        responsive: false,
        animation: false,
        events: [],
        layout: {padding: {left: 0, top: pad.top, right: pad.right, bottom: 0}},
        scales: scales,
        plugins: {
            legend: {display: false},
            tooltip: {enabled: false},
            panelDecor: decor,
        },
    };
}

function drawScatterPanel(p) {
    const pad = {left: 58, top: 32, right: 12, bottom: Math.round(p.ksGap + 11.4)};
    const canvas = mountCanvas(p.frame, pad);
    new Chart(canvas, {
        type: 'line',
        data: {
            datasets: [
                {
                    data: toXY(p.fit),
                    borderColor: FIT_RED,
                    borderWidth: 2.5,
                    borderDash: [9, 5],
                    pointRadius: 0,
                    fill: false,
                },
                {
                    data: zipXY(p.bandX, p.bandUpper),
                    borderWidth: 0,
                    pointRadius: 0,
                    fill: false,
                    cubicInterpolationMode: 'monotone',
                },
                {
                    data: zipXY(p.bandX, p.bandLower),
                    borderWidth: 0,
                    pointRadius: 0,
                    fill: '-1',
                    backgroundColor: BAND_GREY,
                    cubicInterpolationMode: 'monotone',
                },
                {
                    type: 'scatter',
                    data: toXY(p.points),
                    pointRadius: 1.3,
                    pointBorderWidth: 0,
                    pointBackgroundColor: DOT_BLUE,
                    showLine: false,
                },
            ],
        },
        options: baseOptions(pad, axisScales(p, pad, null, 6), {
            title: p.title,
            titleShift: p.titleShift,
            titleGap: p.titleGap,
            rLabel: p.rLabel,
            rGap: p.rGap,
            lnGap: p.lnGap,
        }),
        plugins: [panelDecor],
    });
}

function drawDensityPanel(p) {
    const pad = {left: p.densGap + 9, top: 32, right: 12, bottom: Math.round(p.ksGap + 11.4)};
    const canvas = mountCanvas(p.frame, pad);
    const first = p.curve[0];
    const last = p.curve[p.curve.length - 1];
    const datasets = [
        {
            data: [{x: p.peak, y: 0}, {x: p.peak, y: p.y[1]}],
            borderColor: FIT_RED,
            borderWidth: 2.4,
            borderDash: [7, 4],
            pointRadius: 0,
            fill: false,
        },
        {
            data: [{x: first[0], y: 0}, {x: first[0], y: first[1]}],
            borderColor: '#1b1b1b',
            borderWidth: 1.3,
            pointRadius: 0,
            fill: false,
        },
        {
            data: [{x: last[0], y: last[1]}, {x: last[0], y: 0}],
            borderColor: '#1b1b1b',
            borderWidth: 1.3,
            pointRadius: 0,
            fill: false,
        },
        {
            data: toXY(p.curve),
            borderColor: '#1b1b1b',
            borderWidth: 1.3,
            backgroundColor: AREA_BLUE,
            fill: 'origin',
            pointRadius: 0,
            cubicInterpolationMode: 'monotone',
        },
    ];
    if (p.chord) {
        // светлая линия-артефакт заливки на панели (d) Pr
        datasets.splice(1, 0, {
            data: [{x: first[0], y: first[1]}, {x: last[0], y: last[1]}],
            borderColor: 'rgba(190,214,238,0.85)',
            borderWidth: 1,
            pointRadius: 0,
            fill: false,
        });
    }
    new Chart(canvas, {
        type: 'line',
        data: {datasets},
        options: baseOptions(pad, axisScales(p, pad, 'density', 2.5), {
            title: p.title,
            titleShift: p.titleShift,
            titleGap: p.titleGap,
            peak: p.peak,
        }),
        plugins: [panelDecor],
    });
}

const scatterPanels = [
    {points: ffPoints, fit: ffFit, bandX: ffBandX, bandUpper: ffBandUpper, bandLower: ffBandLower, title: panelTitles[0], rLabel: rLabels[0],
        xTicks: ksTicks8, yTicks: lnTicksFF, frame: [85, 51, 331, 213], x: [-0.37, 7.84], y: [-7.5, 19.35], lnGap: 40, rGap: 16, tickGap: 15, ksGap: 30, titleShift: 20, titleGap: 16},
    {points: fpPoints, fit: fpFit, bandX: fpBandX, bandUpper: fpBandUpper, bandLower: fpBandLower, title: panelTitles[1], rLabel: rLabels[1],
        xTicks: ksTicks8, yTicks: lnTicksFP, frame: [391, 49, 637, 212], x: [-0.34, 6.74], y: [-8.07, 12.6], lnGap: 34, rGap: 12, tickGap: 16, ksGap: 27, titleShift: 13, titleGap: 14},
    {points: drPoints, fit: drFit, bandX: drBandX, bandUpper: drBandUpper, bandLower: drBandLower, title: panelTitles[2], rLabel: rLabels[2],
        xTicks: ksTicks8, yTicks: lnTicksDr, frame: [85, 298, 332, 461], x: [-0.42, 7.77], y: [-12.3, 15.3], lnGap: 40, rGap: 10, tickGap: 14, ksGap: 28, titleShift: 5, titleGap: 15},
    {points: cdPoints, fit: cdFit, bandX: cdBandX, bandUpper: cdBandUpper, bandLower: cdBandLower, title: panelTitles[3], rLabel: rLabels[3],
        xTicks: ksTicks8, yTicks: lnTicksWide, frame: [391, 297, 637, 460], x: [-0.37, 7.8], y: [-12.5, 17.8], lnGap: 34, rGap: 12, tickGap: 12.7, ksGap: 29, titleShift: 13, titleGap: 15},
    {points: bcPoints, fit: bcFit, bandX: bcBandX, bandUpper: bcBandUpper, bandLower: bcBandLower, title: panelTitles[4], rLabel: rLabels[4],
        xTicks: ksTicks8, yTicks: lnTicksWide, frame: [81, 539, 330, 704], x: [-0.37, 7.88], y: [-15.3, 19.2], lnGap: 36, rGap: 15, tickGap: 9.5, ksGap: 26, titleShift: 12, titleGap: 14},
    {points: prPoints, fit: prFit, bandX: prBandX, bandUpper: prBandUpper, bandLower: prBandLower, title: panelTitles[5], rLabel: rLabels[5],
        xTicks: ksTicks4, yTicks: lnTicksWide, frame: [391, 539, 637, 703], x: [-0.12, 4.29], y: [-17.5, 13.7], lnGap: 38, rGap: 10, tickGap: 10, ksGap: 27, titleShift: 9, titleGap: 12},
];

const densityPanels = [
    {curve: densityFF, peak: peakKs[0], title: panelTitles[0], xTicks: ksTicks8, yTicks: densTicks3,
        frame: [718, 49, 964, 212], x: [-0.36, 7.77], y: [0, 0.582], densGap: 39, tickGap: 16, ksGap: 28, titleShift: 14, titleGap: 14},
    {curve: densityFP, peak: peakKs[1], title: panelTitles[1], xTicks: ksTicks8, yTicks: densTicks4,
        frame: [1027, 48, 1273, 212], x: [-0.35, 6.72], y: [0, 0.697], densGap: 40, tickGap: 16, ksGap: 26, titleShift: 17, titleGap: 13},
    {curve: densityDr, peak: peakKs[2], title: panelTitles[2], xTicks: ksTicks8, yTicks: densTicks4,
        frame: [707, 296, 908, 459], x: [-0.38, 7.76], y: [0, 0.688], densGap: 34, tickGap: 13.4, ksGap: 29, titleShift: 0, titleGap: 14},
    {curve: densityCd, peak: peakKs[3], title: panelTitles[3], xTicks: ksTicks8, yTicks: densTicks4,
        frame: [959, 296, 1159, 459], x: [-0.36, 7.82], y: [0, 0.64], densGap: 35, tickGap: 13.4, ksGap: 29, titleShift: 8, titleGap: 14},
    {curve: densityBc, peak: peakKs[4], title: panelTitles[4], xTicks: ksTicks8, yTicks: densTicks3,
        frame: [707, 536, 909, 701], x: [-0.38, 7.79], y: [0, 0.59], densGap: 34, tickGap: 15.7, ksGap: 29, titleShift: 2, titleGap: 11},
    {curve: densityPr, peak: peakKs[5], title: panelTitles[5], xTicks: ksTicks4, yTicks: densTicks3, chord: true,
        frame: [959, 537, 1160, 701], x: [-0.09, 4.27], y: [0, 0.587], densGap: 35, tickGap: 15.7, ksGap: 29, titleShift: 5, titleGap: 12},
];

scatterPanels.forEach(drawScatterPanel);
densityPanels.forEach(drawDensityPanel);

// Подгоняем ширину каждой строки подписи под оригинал
function fitCaption() {
    document.querySelectorAll('.caption-line').forEach((el) => {
        el.style.transform = 'none';
        const natural = el.getBoundingClientRect().width;
        const target = Number(el.dataset.width);
        if (natural > 0) {
            el.style.transform = `scaleX(${target / natural})`;
        }
    });
}
fitCaption();
if (document.fonts && document.fonts.ready) {
    document.fonts.ready.then(fitCaption);
}
</script>
</body>
</html>
